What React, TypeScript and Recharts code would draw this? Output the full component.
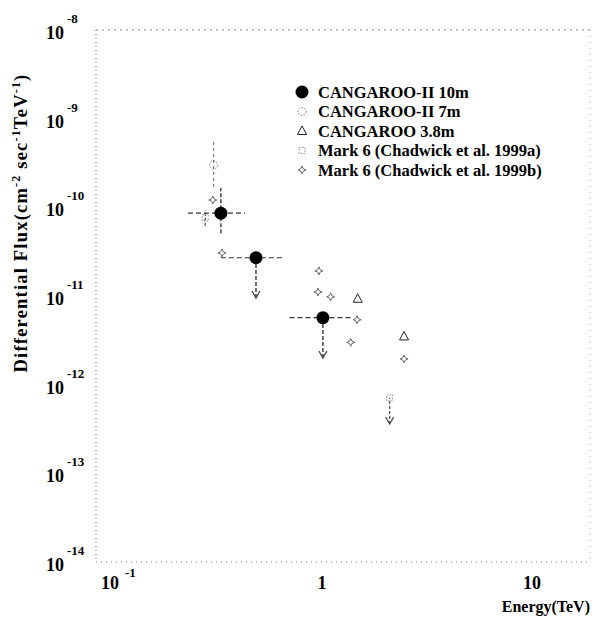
import React from "react";
import { ComposedChart, Scatter, XAxis, YAxis, ReferenceLine } from "recharts";

// CANGAROO-II 10m (filled circles)
const c10Energy = [0.33, 0.485, 1.01];
const c10Flux = [8.6e-11, 2.7e-11, 5.7e-12];
const c10EnergyLo = [0.23, 0.33, 0.7];
const c10EnergyHi = [0.43, 0.645, 1.38];
const c10FluxLo = [5.1e-11, 9.5e-12, 2.0e-12];
const c10FluxHi = [1.65e-10, 2.7e-11, 5.7e-12];
const c10Arrow = [false, true, true];

// CANGAROO-II 7m
const c7Energy = [0.305];
const c7Flux = [3.0e-10];
const c7FluxLo = [1.7e-10];
const c7FluxHi = [5.5e-10];

// CANGAROO 3.8m
const c38Energy = [1.48, 2.46];
const c38Flux = [9.3e-12, 3.5e-12];

// Mark 6 (1999a)
const m6aEnergy = [0.278, 2.1];
const m6aFlux = [7.6e-11, 7.1e-13];
const m6aFluxLo = [6.2e-11, 3.6e-13];
const m6aFluxHi = [9.3e-11, 7.1e-13];
const m6aArrow = [false, true];

// Mark 6 (1999b)
const m6bEnergy = [0.302, 0.334, 0.967, 0.957, 1.1, 1.47, 1.37, 2.46];
const m6bFlux = [1.21e-10, 3.06e-11, 1.92e-11, 1.11e-11, 9.8e-12, 5.4e-12, 3.0e-12, 1.95e-12];

const xTicks = [0.1, 1, 10];
const yTicks = [1e-14, 1e-13, 1e-12, 1e-11, 1e-10, 1e-9, 1e-8];

const legendItems = [
  "CANGAROO-II 10m",
  "CANGAROO-II 7m",
  "CANGAROO 3.8m",
  "Mark 6 (Chadwick et al. 1999a)",
  "Mark 6 (Chadwick et al. 1999b)",
];

const FONT = "'Liberation Serif', 'Times New Roman', serif";
const pts = (xs: number[], ys: number[]) => xs.map((x, i) => ({ x, y: ys[i] }));

const FilledCircle = (p: any) => <circle cx={p.cx} cy={p.cy} r={6.5} fill="#000" />;
const DotCircle = (p: any) => (
  <circle cx={p.cx} cy={p.cy} r={4} fill="none" stroke="#777" strokeWidth={1} strokeDasharray="1.5 1.5" />
);
const Triangle = (p: any) => (
  <path d={`M${p.cx},${p.cy - 5} L${p.cx + 4.5},${p.cy + 3.5} L${p.cx - 4.5},${p.cy + 3.5} Z`} fill="none" stroke="#222" strokeWidth={1} />
);
const DotSquare = (p: any) => (
  <rect x={p.cx - 3} y={p.cy - 3} width={6} height={6} fill="none" stroke="#888" strokeWidth={1} strokeDasharray="1.5 1.5" />
);
const Star = (p: any) => {
  const { cx, cy } = p;
  return (
    <path
      d={`M${cx},${cy - 4} L${cx + 1.2},${cy - 1.2} L${cx + 4},${cy} L${cx + 1.2},${cy + 1.2} L${cx},${cy + 4} L${cx - 1.2},${cy + 1.2} L${cx - 4},${cy} L${cx - 1.2},${cy - 1.2} Z`}
      fill="none"
      stroke="#666"
      strokeWidth={1}
    />
  );
};
const ArrowHead = (p: any) => (
  <path d={`M${p.cx - 4},${p.cy - 7} L${p.cx},${p.cy} L${p.cx + 4},${p.cy - 7}`} fill="none" stroke="#444" strokeWidth={1.3} />
);

const YTick = (props: any) => {
  const { x, y, payload } = props;
  const exp = Math.round(Math.log10(payload.value));
  return (
    <g fontFamily={FONT} fontWeight="bold" fill="#000">
      <text x={x - 32} y={y + 9} textAnchor="end" fontSize={18}>10</text>
      <text x={x - 29} y={y - 7} fontSize={13}>{exp}</text>
    </g>
  );
};

const XTick = (props: any) => {
  const { x, y, payload } = props;
  const v = payload.value;
  if (v === 1)
    return (
      <text x={x} y={y + 27} textAnchor="middle" fontSize={18} fontFamily={FONT} fontWeight="bold">1</text>
    );
  if (v === 10)
    return (
      <text x={x} y={y + 27} textAnchor="middle" fontSize={18} fontFamily={FONT} fontWeight="bold">10</text>
    );
  return (
    <g fontFamily={FONT} fontWeight="bold">
      <text x={x - 2} y={y + 27} textAnchor="middle" fontSize={18}>10</text>
      <text x={x + 13} y={y + 15} fontSize={13}>-1</text>
    </g>
  );
};

const legendShapes = [FilledCircle, DotCircle, Triangle, DotSquare, Star];

export default function App() {
  const c10Tips = c10Energy.map((e, i) => ({ x: e, y: c10FluxLo[i] })).filter((_, i) => c10Arrow[i]);
  const m6aTips = m6aEnergy.map((e, i) => ({ x: e, y: m6aFluxLo[i] })).filter((_, i) => m6aArrow[i]);

  return (
    <div style={{ position: "absolute", left: 0, top: 0, width: 595, height: 619, background: "#fff" }}>
      <ComposedChart width={595} height={619} margin={{ top: 30, right: 5, left: 0, bottom: 0 }}>
        <XAxis
          type="number"
          dataKey="x"
          scale="log"
          domain={[0.0839, 18.9]}
          allowDataOverflow
          ticks={xTicks}
          tick={<XTick />}
          tickSize={0}
          tickMargin={0}
          height={57}
          axisLine={{ stroke: "#777", strokeDasharray: "1 4" }}
        />
        <YAxis
          type="number"
          dataKey="y"
          scale="log"
          domain={[1e-14, 1e-8]}
          allowDataOverflow
          ticks={yTicks}
          tick={<YTick />}
          tickSize={0}
          tickMargin={0}
          width={96}
          axisLine={{ stroke: "#555", strokeDasharray: "1 3" }}
        />

        {/* error bars */}
        {c10Energy.map((e, i) => (
          <ReferenceLine
            key={"c10h" + i}
            segment={[{ x: c10EnergyLo[i], y: c10Flux[i] }, { x: c10EnergyHi[i], y: c10Flux[i] }]}
            stroke="#333"
            strokeWidth={1.2}
            strokeDasharray="5 3"
            ifOverflow="visible"
          />
        ))}
        {c10Energy.map((e, i) => (
          <ReferenceLine
            key={"c10v" + i}
            segment={[{ x: e, y: c10FluxLo[i] }, { x: e, y: c10FluxHi[i] }]}
            stroke="#444"
            strokeWidth={1.5}
            strokeDasharray="4 2"
            ifOverflow="visible"
          />
        ))}
        {c7Energy.map((e, i) => (
          <ReferenceLine
            key={"c7v" + i}
            segment={[{ x: e, y: c7FluxLo[i] }, { x: e, y: c7FluxHi[i] }]}
            stroke="#666"
            strokeDasharray="3 3"
            ifOverflow="visible"
          />
        ))}
        {m6aEnergy.map((e, i) => (
          <ReferenceLine
            key={"m6a" + i}
            segment={[{ x: e, y: m6aFluxLo[i] }, { x: e, y: m6aFluxHi[i] }]}
            stroke="#555"
            strokeWidth={1.3}
            strokeDasharray="3 2"
            ifOverflow="visible"
          />
        ))}

        <Scatter data={pts(c7Energy, c7Flux)} shape={DotCircle} isAnimationActive={false} />
        <Scatter data={pts(c38Energy, c38Flux)} shape={Triangle} isAnimationActive={false} />
        <Scatter data={pts(m6aEnergy, m6aFlux)} shape={DotSquare} isAnimationActive={false} />
        <Scatter data={pts(m6bEnergy, m6bFlux)} shape={Star} isAnimationActive={false} />
        <Scatter data={c10Tips} shape={ArrowHead} isAnimationActive={false} />
        <Scatter data={m6aTips} shape={ArrowHead} isAnimationActive={false} />
        <Scatter data={pts(c10Energy, c10Flux)} shape={FilledCircle} isAnimationActive={false} />
      </ComposedChart>

      <svg width={595} height={619} style={{ position: "absolute", left: 0, top: 0, pointerEvents: "none" }}>
        {/* frame top/right */}
        <line x1={96} y1={30} x2={590} y2={30} stroke="#888" strokeDasharray="2 4" />
        <line x1={590} y1={30} x2={590} y2={562} stroke="#aaa" strokeDasharray="1 5" />

        {/* legend */}
        {legendItems.map((name, i) => {
          const Shape = legendShapes[i];
          const cy = 92 + i * 19.5;
          return (
            <g key={name}>
              <Shape cx={302} cy={cy} />
              <text x={318} y={cy + 5.5} fontSize={16.5} fontFamily={FONT} fontWeight="bold">{name}</text>
            </g>
          );
        })}

        {/* axis titles */}
        <text x={590} y={612} textAnchor="end" fontSize={16} fontFamily={FONT} fontWeight="bold">Energy(TeV)</text>
        <text
          transform="translate(27,223) rotate(-90)"
          textAnchor="middle"
          fontSize={18.5}
          letterSpacing={1.2}
          fontFamily={FONT}
          fontWeight="bold"
        >
          Differential Flux(cm
          <tspan dy={-7} fontSize={12}>-2</tspan>
          <tspan dy={7}> sec</tspan>
          <tspan dy={-7} fontSize={12}>-1</tspan>
          <tspan dy={7}>TeV</tspan>
          <tspan dy={-7} fontSize={12}>-1</tspan>
          <tspan dy={7}>)</tspan>
        </text>
      </svg>
    </div>
  );
}
